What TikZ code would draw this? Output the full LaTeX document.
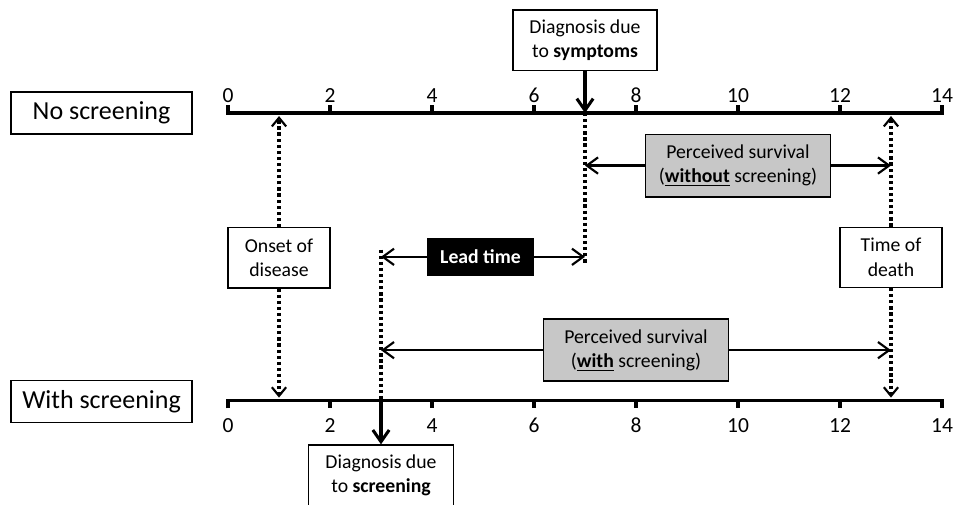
\documentclass[tikz,border=0pt]{standalone}
\usepackage{fontspec}
\setmainfont{Carlito}
\usetikzlibrary{arrows.meta}
\def\yTop{0}
\def\yBot{-5.64}
\tikzset{
  tlaxis/.style={line width=2pt, line join=miter},
  tlbox/.style={draw, line width=0.7pt, fill=white, align=center, inner sep=2pt,
    font=\fontsize{11}{13.5}\selectfont},
  tlrow/.style={tlbox, font=\fontsize{14.5}{16}\selectfont, minimum width=3.55cm, minimum height=0.82cm},
  tlsurv/.style={tlbox, line width=1pt, fill=black!22, minimum width=3.63cm, minimum height=1.22cm},
  tldiag/.style={-{Straight Barb[length=2.3mm,width=3.2mm]}, line width=1.7pt},
  tlspan/.style={-{Straight Barb[length=2.2mm,width=3.2mm]}, line width=1.2pt},
  tldot/.style={line width=2pt, dash pattern=on 1.8pt off 1.6pt},
  tldotarr/.style={tldot, -{Straight Barb[length=1.7mm,width=2.8mm,line width=1.2pt]}},
  tlnum/.style={font=\fontsize{12}{14}\selectfont, inner sep=1pt},
}
\newcommand{\tlaxis}[4]{% name, y, tick end, label y
  \draw[tlaxis] (0,#3) -- (0,#2) -- (14,#2) -- (14,#3);
  \foreach \t in {2,4,...,12}
    \draw[tlaxis] (\t,#2) -- (\t,#3);
  \foreach \t in {0,2,...,14}
    \node[tlnum] (#1\t) at (\t,#4) {\t};}

\begin{document}
\begin{tikzpicture}
  \useasboundingbox (-4.471,-7.667) rectangle (14.255,2.216);
  \tlaxis{tA}{\yTop}{0.15}{0.35}
  \tlaxis{tB}{\yBot}{-5.79}{-6.12}

  \coordinate (symT) at (7,\yTop);
  \coordinate (symE) at (7,-2.98);
  \coordinate (scrB) at (3,\yBot);
  \coordinate (scrE) at (3,-2.68);
  \coordinate (onT) at (1,-0.06);
  \coordinate (onB) at (1,-5.58);
  \coordinate (deT) at (13,-0.06);
  \coordinate (deB) at (13,-5.58);
  \coordinate (leadL) at (3,-2.82);
  \coordinate (leadR) at (7,-2.82);
  \coordinate (noL) at (7,-1.03);
  \coordinate (noR) at (13,-1.03);
  \coordinate (wL) at (3,-4.65);
  \coordinate (wR) at (13,-4.65);

  \node[tlrow] (noscr) at (-2.48,0) {No screening};
  \node[tlrow] (withscr) at (-2.48,-5.66) {With screening};
  \node[tlbox, minimum width=2.82cm, minimum height=1.18cm] (diagsym) at (7,1.43) {Diagnosis due\\to \textbf{symptoms}};
  \node[tlbox, minimum width=2.84cm, minimum height=1.2cm] (diagscr) at (3,-7.11) {Diagnosis due\\to \textbf{screening}};
  \node[tlbox, minimum width=2cm, minimum height=1.18cm] (onset) at (1,-2.84) {Onset of\\disease};
  \node[tlbox, minimum width=2cm, minimum height=1.18cm] (death) at (13,-2.83) {Time of\\death};
  \node[tlsurv] (survno) at (10,-1.03) {Perceived survival\\(\underline{\textbf{without}} screening)};
  \node[tlsurv] (survscr) at (8,-4.65) {Perceived survival\\(\underline{\textbf{with}} screening)};
  \node[tlbox, fill=black, text=white, font=\fontsize{11}{13.5}\selectfont\bfseries,
    minimum width=2.06cm, minimum height=0.71cm] (lead) at (4.95,-2.82) {Lead time};

  % diagnosis moments
  \draw[tldiag] (diagsym) -- (symT);
  \draw[tldiag] (scrB) -- (diagscr);
  \draw[tldot] (symT) -- (symE);
  \draw[tldot] (scrE) -- (scrB);

  % onset and death
  \draw[tldotarr] (onset) -- (onT);
  \draw[tldotarr] (onset) -- (onB);
  \draw[tldotarr] (death) -- (deT);
  \draw[tldotarr] (death) -- (deB);

  % spans
  \draw[tlspan] (lead) -- (leadL);
  \draw[tlspan] (lead) -- (leadR);
  \draw[tlspan] (survno) -- (noL);
  \draw[tlspan] (survno) -- (noR);
  \draw[tlspan] (survscr) -- (wL);
  \draw[tlspan] (survscr) -- (wR);
\end{tikzpicture}
\end{document}
